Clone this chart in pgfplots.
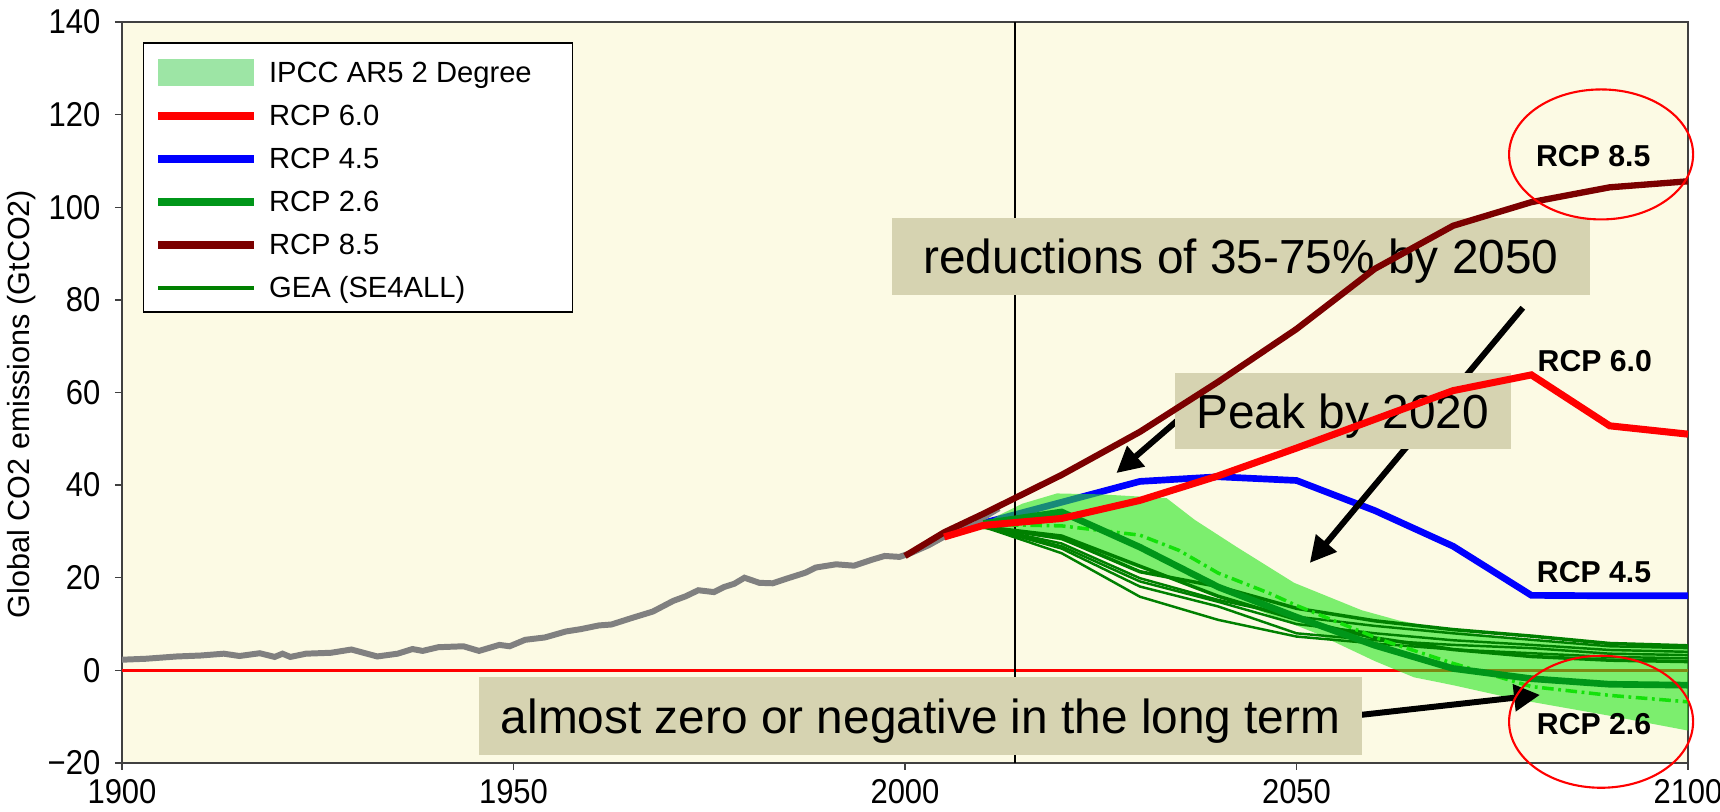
\documentclass[border=0pt]{standalone}
\usepackage{fontspec}
\setmainfont{Liberation Sans}
\newfontfamily\tickfont[FakeStretch=0.9]{Liberation Sans}
\usepackage{pgfplots}
\pgfplotsset{compat=1.18}
\usetikzlibrary{arrows.meta}
\definecolor{bg}{RGB}{252,250,228}
\definecolor{bandg}{RGB}{40,230,32}
\definecolor{legband}{RGB}{157,229,165}
\definecolor{rcpred}{RGB}{255,0,0}
\definecolor{rcpblue}{RGB}{0,0,255}
\definecolor{rcpgreen}{RGB}{0,150,25}
\definecolor{rcpbrown}{RGB}{123,0,0}
\definecolor{gea}{RGB}{0,128,0}
\definecolor{dashg}{RGB}{20,225,10}
\definecolor{histgray}{RGB}{128,128,128}
\definecolor{boxfill}{RGB}{214,211,177}
\definecolor{axisgray}{RGB}{64,64,64}
\begin{document}
\begin{tikzpicture}
\begin{axis}[
  scale only axis, width=156.6mm, height=74.1mm,
  xmin=1900, xmax=2100, ymin=-20, ymax=140,
  xtick={1900,1950,2000,2050,2100},
  xticklabels={1900,1950,2000,2050,2100},
  ytick={-20,0,20,40,60,80,100,120,140},
  yticklabels={−20,0,20,40,60,80,100,120,140},
  tick align=outside, xtick pos=left, ytick pos=left,
  major tick length=0.7mm,
  axis line style={axisgray, line width=0.4pt},
  tick style={axisgray, line width=0.4pt},
  axis background/.style={fill=bg},
  clip=false,
  ticklabel style={font=\tickfont\fontsize{9.8}{11}\selectfont, inner sep=0.6mm},
  xticklabel shift=0.3mm,
  yticklabel shift=0.8mm,
  ylabel={Global CO2 emissions (GtCO2)},
  ylabel style={font=\fontsize{8.7}{10}\selectfont, at={(axis description cs:-0.0639,0.4845)}, anchor=center},
  legend image code/.code={\draw[#1] (0mm,0mm) -- (9.6mm,0mm);},
  legend cell align=left,
  legend style={at={(0.0209,0.9528)}, anchor=north west, draw=none, fill=none,
    inner sep=0pt, outer sep=0pt, row sep=1.1mm, column sep=1.1mm,
    font=\fontsize{8.3}{10}\selectfont,
    nodes={inner sep=0pt, text height=2.6mm, text depth=0.6mm}},
]
% zero line
\addplot[rcpred, line width=0.7pt, forget plot] coordinates {(1900,0) (2100,0)};
% RCP 4.5
\addplot[rcpblue, line width=1.9pt, forget plot] coordinates {
(2010,31.8)(2020,36.3)(2030,40.8)(2040,41.8)(2050,41.0)(2060,34.5)(2070,26.8)(2080,16.2)(2090,16.1)(2100,16.1)};
% IPCC AR5 2 degree band
\addplot[fill=bandg, fill opacity=0.6, draw=none, forget plot] coordinates {
(2009.5,31)(2012,33.5)(2015,36)(2019.4,38.2)(2025,38)(2033.4,37.2)(2037,32.5)(2042.4,26.6)(2049.7,18.9)(2058.3,13)(2063,10.8)(2070,8.5)(2080,6.5)(2090,5.3)(2100,4.8)
(2100,-13)(2090,-9.8)(2078,-6.2)(2070,-3.2)(2065,-1.5)(2060,2)(2052.5,8)(2044,13.7)(2036,19)(2030,22)(2020,28)(2015,29.5)(2009.5,30.5)} -- cycle;
% vertical line
\addplot[black, line width=0.6pt, forget plot] coordinates {(2014,-20) (2014,140)};
% historical
\addplot[histgray, line width=1.7pt, forget plot] coordinates {
(1900,2.3)(1903,2.5)(1907,3.0)(1910,3.2)(1913,3.6)(1915,3.1)(1917.6,3.7)(1919.5,2.9)(1920.5,3.6)(1921.5,2.9)(1923.5,3.6)(1926.7,3.8)(1929.3,4.5)(1932.6,3.0)(1935.2,3.6)(1937.1,4.6)(1938.4,4.2)(1940.4,5.0)(1943.6,5.2)(1945.6,4.2)(1948.2,5.5)(1949.5,5.2)(1951.5,6.6)(1954,7.1)(1956.7,8.4)(1958.6,8.9)(1960.9,9.7)(1962.5,9.9)(1965.1,11.3)(1967.8,12.7)(1970.4,15.0)(1972,16.0)(1973.6,17.3)(1975.6,16.9)(1976.9,18.0)(1978.2,18.7)(1979.5,20.0)(1981.4,18.9)(1983.1,18.8)(1984.7,19.7)(1987.3,21.1)(1988.6,22.2)(1991.2,22.9)(1993.5,22.6)(1995.8,23.9)(1997.4,24.7)(1999.3,24.5)(2000.7,25.3)(2003,27)(2006,29.8)(2009,31.5)(2010,33)(2012,35)};
% GEA lines
\addplot[gea, line width=1.0pt, forget plot] coordinates {(2010,31)(2020,28.5)(2030,21.3)(2040,18.1)(2050,13.4)(2060,10.7)(2070,8.8)(2080,7.4)(2090,5.8)(2100,5.3)};
\addplot[gea, line width=0.7pt, forget plot] coordinates {(2010,31)(2020,27.4)(2030,19.9)(2040,15.2)(2050,11.6)(2060,9.6)(2070,8)(2080,6.6)(2090,5.2)(2100,4.8)};
\addplot[gea, line width=0.7pt, forget plot] coordinates {(2010,31)(2020,26.8)(2030,19.2)(2040,14.8)(2050,10)(2060,8)(2070,6.5)(2080,5.5)(2090,4.4)(2100,4.0)};
\addplot[gea, line width=0.7pt, forget plot] coordinates {(2010,31)(2020,26.3)(2030,18.1)(2040,13.8)(2050,8.0)(2060,6.5)(2070,5.5)(2080,4.8)(2090,3.6)(2100,3.3)};
\addplot[gea, line width=0.7pt, forget plot] coordinates {(2010,31)(2020,25.3)(2030,15.9)(2040,10.9)(2050,7.3)(2060,5.8)(2070,4.5)(2080,3.7)(2090,2.9)(2100,2.6)};
\addplot[gea, line width=1.0pt, forget plot] coordinates {(2010,31)(2020,29)(2030,22.5)(2040,16)(2050,11)(2060,7)(2070,4.5)(2080,3)(2090,2.2)(2100,1.9)};
% dash-dot
\addplot[dashg, line width=1.0pt, dash pattern=on 3.3pt off 1.3pt on 0.8pt off 1.3pt, forget plot] coordinates {
(2010,31.5)(2020,31.2)(2030,29.2)(2035,25.9)(2040,21)(2046.6,16.6)(2050,14)(2061,6.5)(2070,1.5)(2080,-3.5)(2090,-5.4)(2100,-6.8)};
% arrows
\draw[line width=1.7pt, -{Triangle[length=2.6mm,width=2.6mm]}] (axis cs:2078.9,78.3) -- (axis cs:2051.7,23.2);
\draw[line width=1.7pt, -{Triangle[length=2.6mm,width=2.6mm]}] (axis cs:2037.7,58.2) -- (axis cs:2027.0,42.6);
\draw[line width=1.7pt, -{Triangle[length=2.6mm,width=2.6mm]}] (axis cs:2058.3,-9.6) -- (axis cs:2081.1,-5.3);
% boxes
\node[fill=boxfill, minimum width=69.8mm, minimum height=7.7mm, inner sep=0pt, text depth=0pt, font=\fontsize{13.6}{16}\selectfont] at (axis cs:2042.9,89.4) {reductions of 35-75\% by 2050};
\node[fill=boxfill, minimum width=33.6mm, minimum height=7.6mm, inner sep=0pt, text depth=0pt, font=\fontsize{13.6}{16}\selectfont] at (axis cs:2055.9,56.0) {Peak by 2020};
\node[fill=boxfill, minimum width=88.3mm, minimum height=7.8mm, inner sep=0pt, text depth=0pt, font=\fontsize{13.6}{16}\selectfont] at (axis cs:2002,-9.85) {almost zero or negative in the long term};
% RCP 2.6
\addplot[rcpgreen, line width=1.9pt, forget plot] coordinates {
(2010,31.7)(2020,34.2)(2030,26.6)(2040,18)(2050,11.5)(2060,5.4)(2070,0.4)(2080,-1.8)(2090,-3)(2100,-3.2)};
% RCP 8.5
\addplot[rcpbrown, line width=1.8pt, forget plot] coordinates {
(2000,24.7)(2005,29.8)(2010,33.8)(2020,42.2)(2030,51.5)(2040,62.3)(2050,73.7)(2060,86.7)(2070,96)(2080,101.1)(2090,104.3)(2100,105.6)};
% RCP 6.0
\addplot[rcpred, line width=2.0pt, forget plot] coordinates {
(2005,28.8)(2010,31.3)(2020,32.8)(2030,36.7)(2040,42)(2050,48)(2060,54.2)(2070,60.4)(2080,63.8)(2090,52.8)(2100,51)};
% labels
\node[font=\bfseries\fontsize{8.6}{10}\selectfont] at (axis cs:2087.9,111.1) {RCP 8.5};
\node[font=\bfseries\fontsize{8.6}{10}\selectfont] at (axis cs:2088.1,66.8) {RCP 6.0};
\node[font=\bfseries\fontsize{8.6}{10}\selectfont] at (axis cs:2088.0,21.2) {RCP 4.5};
\node[font=\bfseries\fontsize{8.6}{10}\selectfont] at (axis cs:2088.0,-11.5) {RCP 2.6};
\draw[rcpred, line width=0.6pt] (axis cs:2088.9,111.4) ellipse [x radius=9.2mm, y radius=6.5mm];
\draw[rcpred, line width=0.6pt] (axis cs:2088.9,-11.1) ellipse [x radius=9.2mm, y radius=6.6mm];
% legend frame
\draw[black, line width=0.4pt, fill=white] (rel axis cs:0.01386,0.6086) rectangle (rel axis cs:0.2878,0.9717);
% legend entries
\addlegendimage{fill=legband, draw=none, legend image code/.code={\fill[legband] (0mm,-1.35mm) rectangle (9.6mm,1.35mm);}}
\addlegendentry{IPCC AR5 2 Degree}
\addlegendimage{rcpred, line width=2.1pt}
\addlegendentry{RCP 6.0}
\addlegendimage{rcpblue, line width=2.1pt}
\addlegendentry{RCP 4.5}
\addlegendimage{rcpgreen, line width=2.1pt}
\addlegendentry{RCP 2.6}
\addlegendimage{rcpbrown, line width=2.1pt}
\addlegendentry{RCP 8.5}
\addlegendimage{gea, line width=1.1pt}
\addlegendentry{GEA (SE4ALL)}
\end{axis}
\pgfresetboundingbox
\useasboundingbox (-12.2mm,-4.9mm) rectangle (159.8mm,76.3mm);
\end{tikzpicture}
\end{document}
